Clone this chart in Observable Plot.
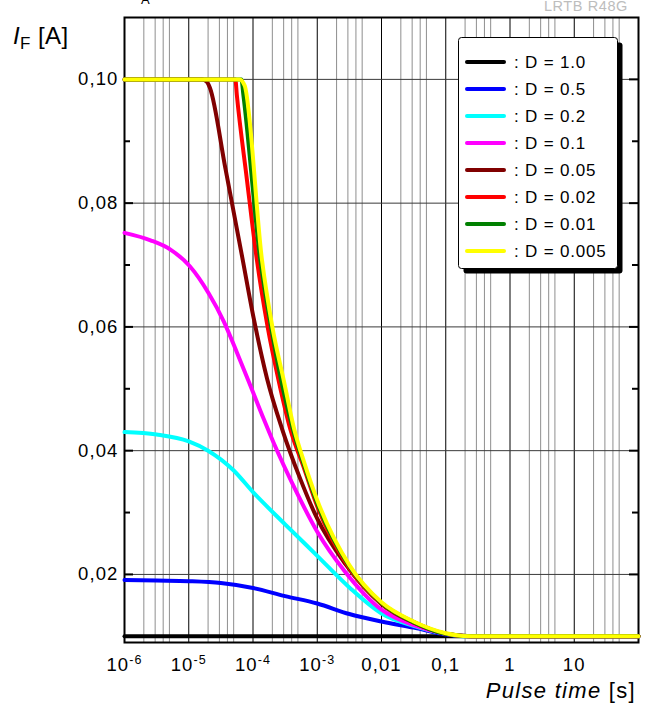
<!DOCTYPE html>
<html><head><meta charset="utf-8">
<script src="https://cdn.jsdelivr.net/npm/d3@7"></script>
<script src="https://cdn.jsdelivr.net/npm/@observablehq/plot@0.6"></script>
<style>
html,body{margin:0;padding:0;background:#fff}
#chart{position:relative;width:654px;height:706px;overflow:hidden}
</style>
</head><body><div id="chart"></div>
<script>
// ---- data ----
const seriesLabels = ["D = 1.0","D = 0.5","D = 0.2","D = 0.1","D = 0.05","D = 0.02","D = 0.01","D = 0.005"];
const seriesColors = ["#000000","#0000ff","#00ffff","#ff00ff","#800000","#ff0000","#008000","#ffff00"];

// pulse time [s] and forward current [A] per duty cycle
const t100 = [1e-6, 100];
const i100 = [0.0100, 0.0100];
const t050 = [1e-6, 3.16e-6, 1e-5, 3.16e-5, 1e-4, 3.16e-4, 1e-3, 3.16e-3, 0.01, 0.0316, 0.1, 0.2, 100];
const i050 = [0.0191, 0.0190, 0.0189, 0.0186, 0.0178, 0.0165, 0.0153, 0.0136, 0.0124, 0.0114, 0.0103, 0.0100, 0.0100];
const t020 = [1e-6, 3.16e-6, 1e-5, 2.0e-5, 5.01e-5, 1e-4, 3.16e-4, 1e-3, 3.16e-3, 0.01, 0.0316, 0.1, 0.2, 100];
const i020 = [0.0430, 0.0426, 0.0415, 0.0400, 0.0368, 0.0333, 0.0281, 0.0230, 0.0179, 0.0137, 0.0117, 0.0104, 0.0100, 0.0100];
const t010 = [1e-6, 2.54e-6, 5.19e-6, 1.04e-5, 2.05e-5, 3.50e-5, 5.66e-5, 9.12e-5, 1.47e-4, 2.07e-4, 4.56e-4, 1e-3, 2.73e-3, 0.01, 0.0316, 0.1, 0.224, 100];
const i010 = [0.0752, 0.0740, 0.0725, 0.0698, 0.0654, 0.0609, 0.0558, 0.0505, 0.0451, 0.0414, 0.0337, 0.0269, 0.0204, 0.0143, 0.0118, 0.0104, 0.0100, 0.0100];
const t005 = [1e-6, 1.63e-5, 1.92e-5, 2.14e-5, 3.72e-5, 6.76e-5, 1.03e-4, 1.66e-4, 2.84e-4, 5.46e-4, 1e-3, 2.73e-3, 0.01, 0.0316, 0.1, 0.24, 100];
const i005 = [0.100, 0.100, 0.0996, 0.0986, 0.0856, 0.0714, 0.0613, 0.0516, 0.0435, 0.0354, 0.0290, 0.0217, 0.0152, 0.0122, 0.0104, 0.0100, 0.0100];
const t002 = [1e-6, 5.31e-5, 5.6e-5, 8.0e-5, 1.15e-4, 1.69e-4, 2.51e-4, 3.80e-4, 6.31e-4, 1e-3, 3.16e-3, 0.01, 0.0316, 0.1, 0.251, 100];
const i002 = [0.100, 0.100, 0.0975, 0.0840, 0.0708, 0.0600, 0.0513, 0.0435, 0.0370, 0.0310, 0.0210, 0.0153, 0.0123, 0.0104, 0.0100, 0.0100];
const t001 = [1e-6, 6.6e-5, 7.08e-5, 1.30e-4, 1.91e-4, 2.75e-4, 4.17e-4, 6.31e-4, 1e-3, 3.16e-3, 0.01, 0.0316, 0.1, 0.251, 100];
const i001 = [0.100, 0.100, 0.0975, 0.0708, 0.0600, 0.0513, 0.0435, 0.0375, 0.0315, 0.0213, 0.0154, 0.0123, 0.0104, 0.0100, 0.0100];
const t0005 = [1e-6, 6.17e-5, 7.41e-5, 1.38e-4, 2.0e-4, 3.02e-4, 4.37e-4, 6.31e-4, 1e-3, 3.16e-3, 0.01, 0.0316, 0.1, 0.251, 100];
const i0005 = [0.100, 0.100, 0.0990, 0.0708, 0.0600, 0.0513, 0.0435, 0.0380, 0.0320, 0.0215, 0.0155, 0.0124, 0.0105, 0.0100, 0.0100];

const xTicks = [1e-6, 1e-5, 1e-4, 1e-3, 0.01, 0.1, 1, 10];
const xTickLabels = ["10^-6","10^-5","10^-4","10^-3","0,01","0,1","1","10"];
const xMajor = [1e-6, 1e-5, 1e-4, 1e-3, 0.01, 0.1, 1, 10, 100];
const xMinor = [2e-6,3e-6,4e-6,5e-6, 2e-5,3e-5,4e-5,5e-5, 2e-4,3e-4,4e-4,5e-4, 2e-3,3e-3,4e-3,5e-3,
                0.02,0.03,0.04,0.05, 0.2,0.3,0.4,0.5, 2,3,4,5, 20,30,40,50];
const yTicks = [0.02, 0.04, 0.06, 0.08, 0.10];
const yTickLabels = ["0,02","0,04","0,06","0,08","0,10"];
const yMinor = [0.03, 0.05, 0.07, 0.09];

// ---- build ----
const FONT = "'Liberation Sans', Arial, Helvetica, sans-serif";
const W = 654, H = 706, mL = 124, mR = 16, mT = 17, mB = 64;
const plotW = W - mL - mR;
const seriesT = [t100, t050, t020, t010, t005, t002, t001, t0005];
const seriesI = [i100, i050, i020, i010, i005, i002, i001, i0005];
const lineMarks = seriesT.map((ts, s) =>
  Plot.line(ts.map((t, k) => ({t, i: seriesI[s][k]})), {
    x: "t", y: "i", stroke: seriesColors[s], strokeWidth: 4, curve: "monotone-x"
  }));

const svg = Plot.plot({
  width: W, height: H,
  marginLeft: mL, marginRight: mR, marginTop: mT, marginBottom: mB,
  x: {type: "log", domain: [1e-6, 100]},
  y: {domain: [0.009, 0.11]},
  style: {fontFamily: FONT, fontSize: "18.5px", color: "#000", background: "#fff", letterSpacing: "1.1px"},
  marks: [
    Plot.ruleX(xMinor, {stroke: "#8e8e8e", strokeWidth: 1}),
    Plot.ruleX(xMajor, {stroke: "#000", strokeWidth: 1}),
    Plot.ruleY(yTicks, {stroke: "#3a3a3a", strokeWidth: 1}),
    Plot.ruleY(yTicks, {stroke: "#000", strokeWidth: 2, insetRight: plotW - 9}),
    Plot.ruleY(yTicks, {stroke: "#000", strokeWidth: 2, insetLeft: plotW - 9}),
    Plot.ruleY(yMinor, {stroke: "#000", strokeWidth: 2, insetRight: plotW - 6}),
    Plot.ruleY(yMinor, {stroke: "#000", strokeWidth: 2, insetLeft: plotW - 6}),
    Plot.axisX(xTicks, {tickSize: 0, tickPadding: 15, label: null,
      tickFormat: d => xTickLabels[xTicks.indexOf(d)]}),
    Plot.axisY(yTicks, {tickSize: 0, tickPadding: 6, label: null,
      tickFormat: d => yTickLabels[yTicks.indexOf(d)]}),
    Plot.frame({stroke: "#000", strokeWidth: 2}),
    ...lineMarks
  ]
});
document.getElementById("chart").appendChild(svg);

const root = d3.select(svg);
// superscripts on x tick labels
root.selectAll('[aria-label="x-axis tick label"] text').each(function () {
  const s = this.textContent;
  if (s.includes("^")) {
    const [b, e] = s.split("^");
    const el = d3.select(this);
    el.text("");
    el.append("tspan").text(b);
    el.append("tspan").attr("font-size", "12.5px").attr("dy", "-7").text(e);
  }
});

// axis titles
const yt = root.append("text").attr("x", 13).attr("y", 44).attr("text-anchor", "start")
  .style("font-family", FONT).style("font-size", "24px").style("letter-spacing", "0.4px");
yt.append("tspan").attr("font-style", "italic").text("I");
yt.append("tspan").attr("font-size", "17px").attr("dy", 5).text("F");
yt.append("tspan").attr("dy", -5).text(" [A]");

const xt = root.append("text").attr("x", 636).attr("y", 698).attr("text-anchor", "end")
  .style("font-family", FONT).style("font-size", "22px").style("letter-spacing", "1.3px");
xt.append("tspan").attr("font-style", "italic").text("Pulse time");
xt.append("tspan").text(" [s]");

// clipped condition text at top and the part number
const tt = root.append("text").attr("x", 129).attr("y", 0).attr("text-anchor", "start")
  .style("font-family", FONT).style("font-size", "18px");
tt.append("tspan").text("T");
tt.append("tspan").attr("font-size", "13px").attr("dy", 4).text("A");
tt.append("tspan").attr("dy", -4).text(" = 25 °C");

root.append("text").attr("x", 628).attr("y", 11).attr("text-anchor", "end")
  .style("font-family", FONT).style("font-size", "14.5px").style("letter-spacing", "0.6px")
  .attr("fill", "#bdbdbd").text("LRTB R48G");

// legend
const lg = root.append("g");
const bx = 458.5, by = 37.5, bw = 159, bh = 231;
lg.append("rect").attr("x", bx + 5).attr("y", by + 5).attr("width", bw).attr("height", bh)
  .attr("rx", 3).attr("fill", "#000");
lg.append("rect").attr("x", bx).attr("y", by).attr("width", bw).attr("height", bh)
  .attr("rx", 3).attr("fill", "#fff").attr("stroke", "#000").attr("stroke-width", 1);
seriesLabels.forEach((lab, k) => {
  const yy = by + 24.5 + k * 27;
  lg.append("line").attr("x1", 467).attr("x2", 504).attr("y1", yy).attr("y2", yy)
    .attr("stroke", seriesColors[k]).attr("stroke-width", 4).attr("stroke-linecap", "round");
  lg.append("text").attr("x", 514).attr("y", yy).attr("dy", "0.36em").attr("text-anchor", "start")
    .style("font-family", FONT).style("font-size", "17px").style("letter-spacing", "0.8px")
    .text(": " + lab);
});
</script></body></html>
